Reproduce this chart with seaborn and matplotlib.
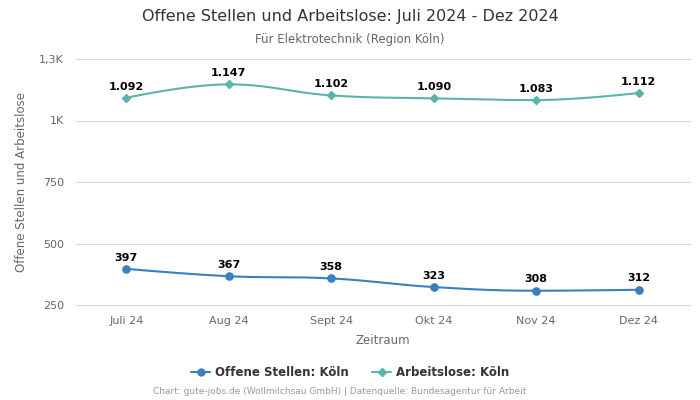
import numpy as np
import pandas as pd
import matplotlib
matplotlib.use("Agg")
import matplotlib.pyplot as plt
import seaborn as sns
from matplotlib.lines import Line2D

categories = ["Juli 24", "Aug 24", "Sept 24", "Okt 24", "Nov 24", "Dez 24"]
offene_stellen = [397, 367, 358, 323, 308, 312]
arbeitslose = [1092, 1147, 1102, 1090, 1083, 1112]
yticks = [250, 500, 750, 1000, 1250]
ytick_labels = ["250", "500", "750", "1K", "1,3K"]

blue = "#3a80bd"
teal = "#5ab4ac"

sns.set_theme(style="white")
plt.rcParams['font.family'] = ['DejaVu Sans']


def spline(xs, ys, n=40):
    xs = np.asarray(xs, float); ys = np.asarray(ys, float)
    m = len(xs)
    lc = [(xs[i], ys[i]) for i in range(m)]
    rc = [(xs[i], ys[i]) for i in range(m)]
    s = 1.5; d = s + 1
    for i in range(1, m - 1):
        px, py = xs[i], ys[i]
        lx, ly = xs[i - 1], ys[i - 1]
        nx, ny = xs[i + 1], ys[i + 1]
        lcx = (s * px + lx) / d; lcy = (s * py + ly) / d
        rcx = (s * px + nx) / d; rcy = (s * py + ny) / d
        corr = ((rcy - lcy) * (rcx - px)) / (rcx - lcx) + py - rcy
        lcy += corr; rcy += corr
        if lcy > ly and lcy > py:
            lcy = max(ly, py); rcy = 2 * py - lcy
        elif lcy < ly and lcy < py:
            lcy = min(ly, py); rcy = 2 * py - lcy
        if rcy > ny and rcy > py:
            rcy = max(ny, py); lcy = 2 * py - rcy
        elif rcy < ny and rcy < py:
            rcy = min(ny, py); lcy = 2 * py - rcy
        lc[i] = (lcx, lcy); rc[i] = (rcx, rcy)
    outx, outy = [], []
    t = np.linspace(0, 1, n)
    for i in range(m - 1):
        p0 = np.array([xs[i], ys[i]]); p1 = np.array(rc[i])
        p2 = np.array(lc[i + 1]); p3 = np.array([xs[i + 1], ys[i + 1]])
        b = ((1 - t) ** 3)[:, None] * p0 + (3 * (1 - t) ** 2 * t)[:, None] * p1 + \
            (3 * (1 - t) * t ** 2)[:, None] * p2 + (t ** 3)[:, None] * p3
        outx.extend(b[:, 0]); outy.extend(b[:, 1])
    return np.array(outx), np.array(outy)


def fmt(v):
    return f"{v:,}".replace(",", ".")


fig = plt.figure(figsize=(7, 4), dpi=100)
ax = fig.add_axes([75 / 700, 1 - 305 / 400, 615 / 700, 246 / 400])

x = np.arange(len(categories))
for vals, col, mk, ms in [(arbeitslose, teal, "D", 4.2), (offene_stellen, blue, "o", 5.2)]:
    sx, sy = spline(x, vals)
    sns.lineplot(x=sx, y=sy, ax=ax, color=col, lw=1.5, sort=False, estimator=None)
    ax.plot(x, vals, ls="none", marker=mk, ms=ms, color=col, zorder=5)
    for xi, v in zip(x, vals):
        ax.annotate(fmt(v), (xi, v), xytext=(0, 4.5), textcoords="offset points",
                    ha="center", va="bottom", fontsize=8, fontweight="bold", color="#000000")

ax.set_xlim(-0.5, len(categories) - 0.5)
ax.set_ylim(250, 1250)
ax.set_yticks(yticks)
ax.set_yticklabels(ytick_labels)
ax.set_xticks(x)
ax.set_xticklabels(categories)
ax.tick_params(axis="both", labelsize=8, colors="#666666", length=0, pad=8)
ax.grid(axis="y", color="#d8d8d8", lw=0.8)
for gl in ax.get_ygridlines():
    gl.set_clip_on(False)
ax.set_axisbelow(True)
for sp in ax.spines.values():
    sp.set_visible(False)
ax.set_xlabel("Zeitraum", fontsize=8.5, color="#666666", labelpad=6)
ax.set_ylabel("Offene Stellen und Arbeitslose", fontsize=8.5, color="#666666", labelpad=8)

fig.text(0.5, 1 - 17 / 400, "Offene Stellen und Arbeitslose: Juli 2024 - Dez 2024",
         ha="center", va="center", fontsize=11.5, color="#333333")
fig.text(0.5, 1 - 39 / 400, "Für Elektrotechnik (Region Köln)",
         ha="center", va="center", fontsize=8.5, color="#666666")

handles = [Line2D([0], [0], color=blue, marker="o", ms=5, lw=1.5),
           Line2D([0], [0], color=teal, marker="D", ms=4, lw=1.5)]
leg = fig.legend(handles, ["Offene Stellen: Köln", "Arbeitslose: Köln"], loc="center",
                 bbox_to_anchor=(0.5, 1 - 373 / 400), ncol=2, frameon=False,
                 prop={"size": 8.5, "weight": "bold"}, handlelength=1.6, columnspacing=2,
                 handletextpad=0.4)
for t in leg.get_texts():
    t.set_color("#333333")

fig.text(340 / 700, 1 - 392 / 400,
         "Chart: gute-jobs.de (Wollmilchsau GmbH) | Datenquelle: Bundesagentur für Arbeit",
         ha="center", va="center", fontsize=6.5, color="#999999")

fig.savefig("out.png", dpi=100)
